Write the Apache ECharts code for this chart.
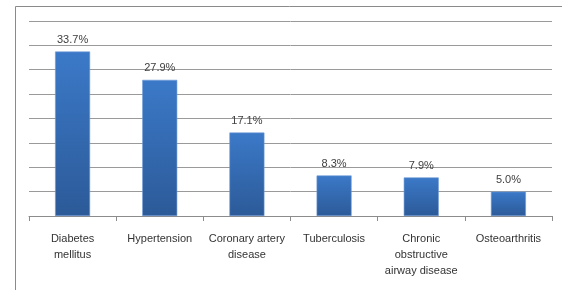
<!DOCTYPE html>
<html>
<head>
<meta charset="utf-8">
<script src="https://cdn.jsdelivr.net/npm/echarts@6/dist/echarts.min.js"></script>
<style>html,body{margin:0;padding:0;background:#fff}#c{width:562px;height:290px}</style>
</head>
<body>
<div id="c"></div>
<script>
const categories = ["Diabetes\nmellitus", "Hypertension", "Coronary artery\ndisease", "Tuberculosis", "Chronic\nobstructive\nairway disease", "Osteoarthritis"];
const values = [33.7, 27.9, 17.1, 8.3, 7.9, 5.0];
const yMin = 0, yMax = 40, yInterval = 5;

const chart = echarts.init(document.getElementById('c'), null, {renderer: 'canvas'});
chart.setOption({
  animation: false,
  backgroundColor: '#fff',
  graphic: [{
    type: 'rect', silent: true, z: -1,
    shape: {x: 15.5, y: 6.5, width: 700, height: 400},
    style: {fill: 'none', stroke: '#8a8a8a', lineWidth: 1}
  }],
  grid: {left: 29, right: 10, top: 20.8, bottom: 74, containLabel: false},
  xAxis: {
    type: 'category',
    data: categories,
    axisLine: {show: true, lineStyle: {color: '#8c8c8c', width: 1}},
    axisTick: {show: true, length: 5, inside: false, lineStyle: {color: '#8c8c8c'}},
    axisLabel: {
      interval: 0, margin: 15, color: '#333', fontFamily: 'Liberation Sans, Arial, sans-serif',
      fontSize: 11, lineHeight: 16
    }
  },
  yAxis: {
    type: 'value', min: yMin, max: yMax, interval: yInterval,
    axisLine: {show: false}, axisTick: {show: false}, axisLabel: {show: false},
    splitLine: {show: true, lineStyle: {color: '#9a9a9a', width: 1}}
  },
  series: [{
    type: 'bar',
    data: values,
    barWidth: 35,
    itemStyle: {
      color: new echarts.graphic.LinearGradient(0, 0, 0, 1, [
        {offset: 0, color: '#3b79c8'},
        {offset: 1, color: '#2c5a98'}
      ]),
      borderColor: '#6f9bd6', borderWidth: 0.6
    },
    label: {
      show: true, position: 'top', distance: 6,
      formatter: p => p.value.toFixed(1) + '%',
      color: '#404040', fontSize: 11, fontFamily: 'Liberation Sans, Arial, sans-serif'
    }
  }]
});
</script>
</body>
</html>
